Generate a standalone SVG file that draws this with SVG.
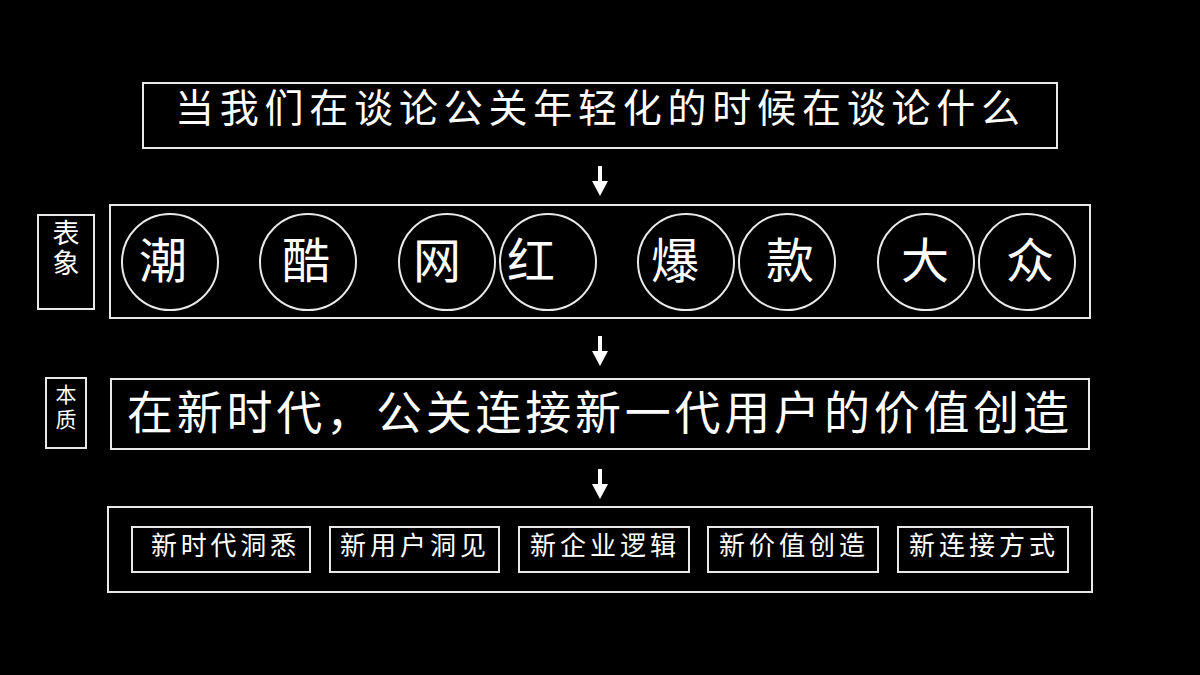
<svg xmlns="http://www.w3.org/2000/svg" width="1200" height="675" viewBox="0 0 1200 675">
<style>
.box{fill:none;stroke:#e8e8e8;stroke-width:2}
.t{fill:#ffffff;font-family:"Noto Sans CJK SC","Noto Sans",sans-serif;font-weight:400}
.v{writing-mode:vertical-rl;text-orientation:upright}
.ring{fill:none;stroke:#e8e8e8;stroke-width:2}
.arr{stroke:#ffffff;stroke-width:4}
</style>
<defs>
<marker id="ah" markerUnits="userSpaceOnUse" markerWidth="16" markerHeight="16" refX="0" refY="8" orient="auto">
<path d="M0,0 L15,8 L0,16 Z" fill="#ffffff"/>
</marker>
</defs>
<rect x="0" y="0" width="1200" height="675" fill="#000000"/>

<g id="title">
<rect class="box" x="143" y="83" width="914" height="65"/>
<text class="t" x="175" y="122" font-size="39" textLength="845" lengthAdjust="spacing">当我们在谈论公关年轻化的时候在谈论什么</text>
</g>

<g id="label-biaoxiang">
<rect class="box" x="38" y="215" width="56" height="94"/>
<text class="t v" x="66" y="219" font-size="27" letter-spacing="3">表象</text>
</g>

<g id="phenomena">
<rect class="box" x="110" y="205" width="980" height="113"/>
<g id="c-chao"><circle class="ring" cx="170" cy="262" r="48"/><text class="t" x="163" y="278" font-size="48" text-anchor="middle">潮</text></g>
<g id="c-ku"><circle class="ring" cx="308" cy="262" r="48"/><text class="t" x="306" y="278" font-size="48" text-anchor="middle">酷</text></g>
<g id="c-wang"><circle class="ring" cx="447" cy="262" r="48"/><text class="t" x="437" y="278" font-size="48" text-anchor="middle">网</text></g>
<g id="c-hong"><circle class="ring" cx="548" cy="262" r="48"/><text class="t" x="531" y="278" font-size="48" text-anchor="middle">红</text></g>
<g id="c-bao"><circle class="ring" cx="686" cy="262" r="48"/><text class="t" x="675" y="278" font-size="48" text-anchor="middle">爆</text></g>
<g id="c-kuan"><circle class="ring" cx="787" cy="262" r="48"/><text class="t" x="790" y="278" font-size="48" text-anchor="middle">款</text></g>
<g id="c-da"><circle class="ring" cx="926" cy="262" r="48"/><text class="t" x="925" y="278" font-size="48" text-anchor="middle">大</text></g>
<g id="c-zhong"><circle class="ring" cx="1027" cy="262" r="48"/><text class="t" x="1030" y="278" font-size="48" text-anchor="middle">众</text></g>
</g>

<g id="label-benzhi">
<rect class="box" x="46" y="378" width="40" height="70"/>
<text class="t v" x="66" y="384" font-size="21" letter-spacing="4">本质</text>
</g>

<g id="essence">
<rect class="box" x="111" y="379" width="978" height="70"/>
<text class="t" x="127" y="429" font-size="46" textLength="942" lengthAdjust="spacing">在新时代，公关连接新一代用户的价值创造</text>
</g>

<g id="aspects">
<rect class="box" x="108" y="507" width="984" height="85"/>
<g id="a1"><rect class="box" x="132" y="527" width="178" height="45"/><text class="t" x="151" y="555" font-size="26" textLength="145" lengthAdjust="spacing">新时代洞悉</text></g>
<g id="a2"><rect class="box" x="330" y="527" width="169" height="45"/><text class="t" x="340" y="555" font-size="26" textLength="146" lengthAdjust="spacing">新用户洞见</text></g>
<g id="a3"><rect class="box" x="519" y="527" width="170" height="45"/><text class="t" x="530" y="555" font-size="26" textLength="146" lengthAdjust="spacing">新企业逻辑</text></g>
<g id="a4"><rect class="box" x="708" y="527" width="170" height="45"/><text class="t" x="719" y="555" font-size="26" textLength="146" lengthAdjust="spacing">新价值创造</text></g>
<g id="a5"><rect class="box" x="898" y="527" width="170" height="45"/><text class="t" x="909" y="555" font-size="26" textLength="146" lengthAdjust="spacing">新连接方式</text></g>
</g>

<g id="connectors">
<line class="arr" x1="600" y1="166" x2="600" y2="181" marker-end="url(#ah)"/>
<line class="arr" x1="600" y1="336" x2="600" y2="351" marker-end="url(#ah)"/>
<line class="arr" x1="600" y1="469" x2="600" y2="484" marker-end="url(#ah)"/>
</g>
</svg>
